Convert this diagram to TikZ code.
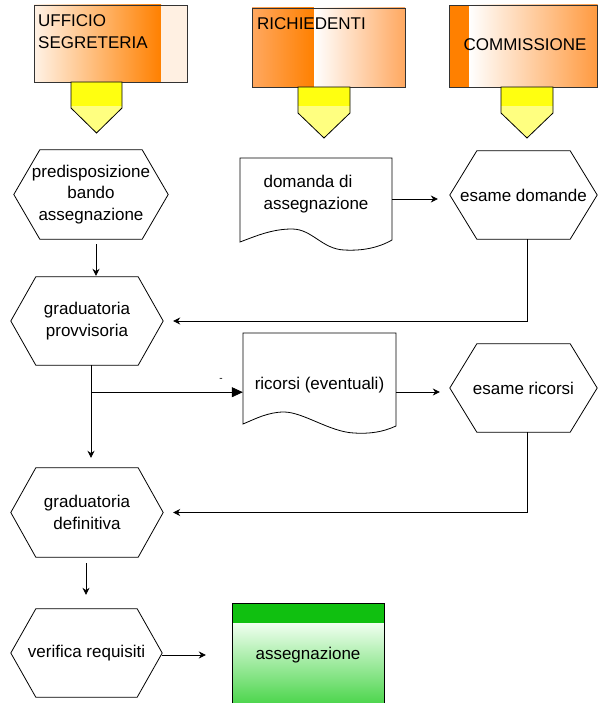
\documentclass[tikz,border=0pt]{standalone}
\usepackage{fontspec}
\setmainfont{Liberation Sans}
\usetikzlibrary{calc,arrows.meta}
\definecolor{org}{HTML}{FF8000}
\definecolor{peach}{HTML}{FFF2E6}
\definecolor{peachlt}{HTML}{FFF0E2}
\definecolor{orglt}{HTML}{FFA860}
\definecolor{orgmid}{HTML}{FF9A40}
\definecolor{ybright}{HTML}{FFFF10}
\definecolor{ylt}{HTML}{FFFF80}
\definecolor{gdark}{HTML}{10C010}
\definecolor{glt}{HTML}{F0FFF0}
\definecolor{gmid}{HTML}{48D448}
\newcommand\hexout[2][25]{\draw[ln] (#2.west) -- ($(#2.north west)+(#1,0)$) -- ($(#2.north east)+(-#1,0)$) -- (#2.east) -- ($(#2.south east)+(-#1,0)$) -- ($(#2.south west)+(#1,0)$) -- cycle;}
\newcommand\yarrow[6]{%
  \fill[ylt] (#1,#3) -- (#2,#3) -- (#2,#5) -- ({(#1+#2)/2},#6) -- (#1,#5) -- cycle;
  \fill[ybright] (#1,#3) rectangle (#2,#4);
  \draw[ln] (#1,#3) -- (#2,#3) -- (#2,#5) -- ({(#1+#2)/2},#6) -- (#1,#5) -- cycle;}
\begin{document}
\begin{tikzpicture}[x=1pt,y=-1pt,
  every node/.style={font=\fontsize{17}{21.5}\selectfont, inner sep=0pt},
  ln/.style={line width=0.8pt, line join=miter},
  arr/.style={ln, -{Stealth[length=7pt,width=7pt]}},
  bigarr/.style={ln, -{Triangle[length=11pt,width=10pt]}},
  hexlbl/.style={align=center},
  doclbl/.style={align=left}]
\useasboundingbox (0,0) rectangle (598,703);
\fill[white] (0,0) rectangle (598,703);

% header: UFFICIO SEGRETERIA
\shade[left color=peach, right color=org] (34,5) rectangle (161,82);
\fill[peachlt] (161,5) rectangle (187,82);
\draw[ln, draw=black!80] (34,5) rectangle (187,82);
\node[align=left, anchor=west] (uff) at (38,31.5) {UFFICIO\\SEGRETERIA};
\yarrow{71}{122}{82}{106}{108}{133}

% header: RICHIEDENTI
\shade[left color=orglt, right color=org] (252,8) rectangle (314,87);
\shade[left color=white, right color=orglt] (314,8) rectangle (405,87);
\draw[ln, draw=black!80] (252,8) rectangle (405,87);
\node[anchor=west] (rich) at (257,24) {RICHIEDENTI};
\yarrow{298}{350}{87}{106}{113}{138}

% header: COMMISSIONE
\fill[org] (449,5) rectangle (469,87);
\shade[left color=white, right color=orgmid] (469,5) rectangle (597.5,87);
\draw[ln, draw=black!80] (449,5) rectangle (597.5,87);
\node (comm) at (525,45) {COMMISSIONE};
\yarrow{501}{553}{87}{106}{113}{138}

% hexagons
\node[hexlbl, minimum width=154pt, minimum height=89pt] (pred) at (91,194.5) {predisposizione\\bando\\assegnazione};
\hexout[26]{pred}
\node[hexlbl, minimum width=152pt, minimum height=88pt] (prov) at (87,321) {graduatoria\\provvisoria};
\hexout[25]{prov}
\node[hexlbl, minimum width=152pt, minimum height=89pt] (def) at (87,512.5) {graduatoria\\definitiva};
\hexout[25]{def}
\node[hexlbl, minimum width=151pt, minimum height=88pt] (ver) at (86.5,653) {verifica requisiti};
\hexout[25]{ver}
\node[hexlbl, minimum width=147pt, minimum height=88pt] (esd) at (523.5,195) {esame domande};
\hexout[27]{esd}
\node[hexlbl, minimum width=147pt, minimum height=88pt] (esr) at (523.5,388) {esame ricorsi};
\hexout[27]{esr}

% documents
\draw[ln] (240,242) -- (240,158) -- (392,158) -- (392,240)
  .. controls (378,248) and (362,251) .. (344,250)
  .. controls (322,249) and (312,229) .. (292,229)
  .. controls (272,229) and (256,236) .. (240,242) -- cycle;
\node[doclbl, minimum width=152pt] (dom) at (316,194) {domanda di\\assegnazione};

\draw[ln] (243,424) -- (243,333) -- (396,333) -- (396,426)
  .. controls (383,432) and (370,434) .. (354,433)
  .. controls (330,432) and (303,412) .. (284,412)
  .. controls (268,412) and (255,419) .. (243,424) -- cycle;
\node[minimum width=153pt] (ric) at (319.5,385) {ricorsi (eventuali)};

% assegnazione
\fill[gdark] (232,603) rectangle (384,623);
\shade[top color=glt, bottom color=gmid] (232,623) rectangle (384,706);
\draw[ln] (232,706) -- (232,603) -- (384,603) -- (384,706);
\node[minimum width=152pt] (asg) at (308,655) {assegnazione};

% connectors
\draw[arr] ([xshift=5pt,yshift=-5pt]pred.south) -- ([xshift=5pt,yshift=1pt]pred.south |- prov.north);
\draw[arr, shorten >=12pt] ([yshift=-5pt]dom.east) -- ([yshift=-5pt]dom.east -| esd.west);
\draw[arr, shorten >=10pt] ([xshift=3.5pt]esd.south) |- (prov.east);
\draw[arr, shorten >=10pt] ([xshift=4pt]prov.south) -- ([xshift=4pt]def.north);
\coordinate (br) at ($([xshift=4pt]prov.south)+(0,27)$);
\draw[bigarr] (br) -- (br -| ric.west);
\node[font=\fontsize{10}{10}\selectfont] (dashmark) at (221,380) {-};
\draw[arr, shorten >=10pt] ([yshift=-7pt]ric.east) -- ([yshift=-7pt]ric.east -| esr.west);
\draw[arr, shorten >=10pt] ([xshift=3.5pt]esr.south) |- (def.east);
\draw[arr] ([xshift=-1pt,yshift=-6pt]def.south) -- ([xshift=-0.5pt,yshift=14pt]ver.north);
\draw[arr, shorten >=26pt] ([yshift=-2pt]ver.east) -- ([yshift=-2pt]ver.east -| asg.west);
\end{tikzpicture}
\end{document}
